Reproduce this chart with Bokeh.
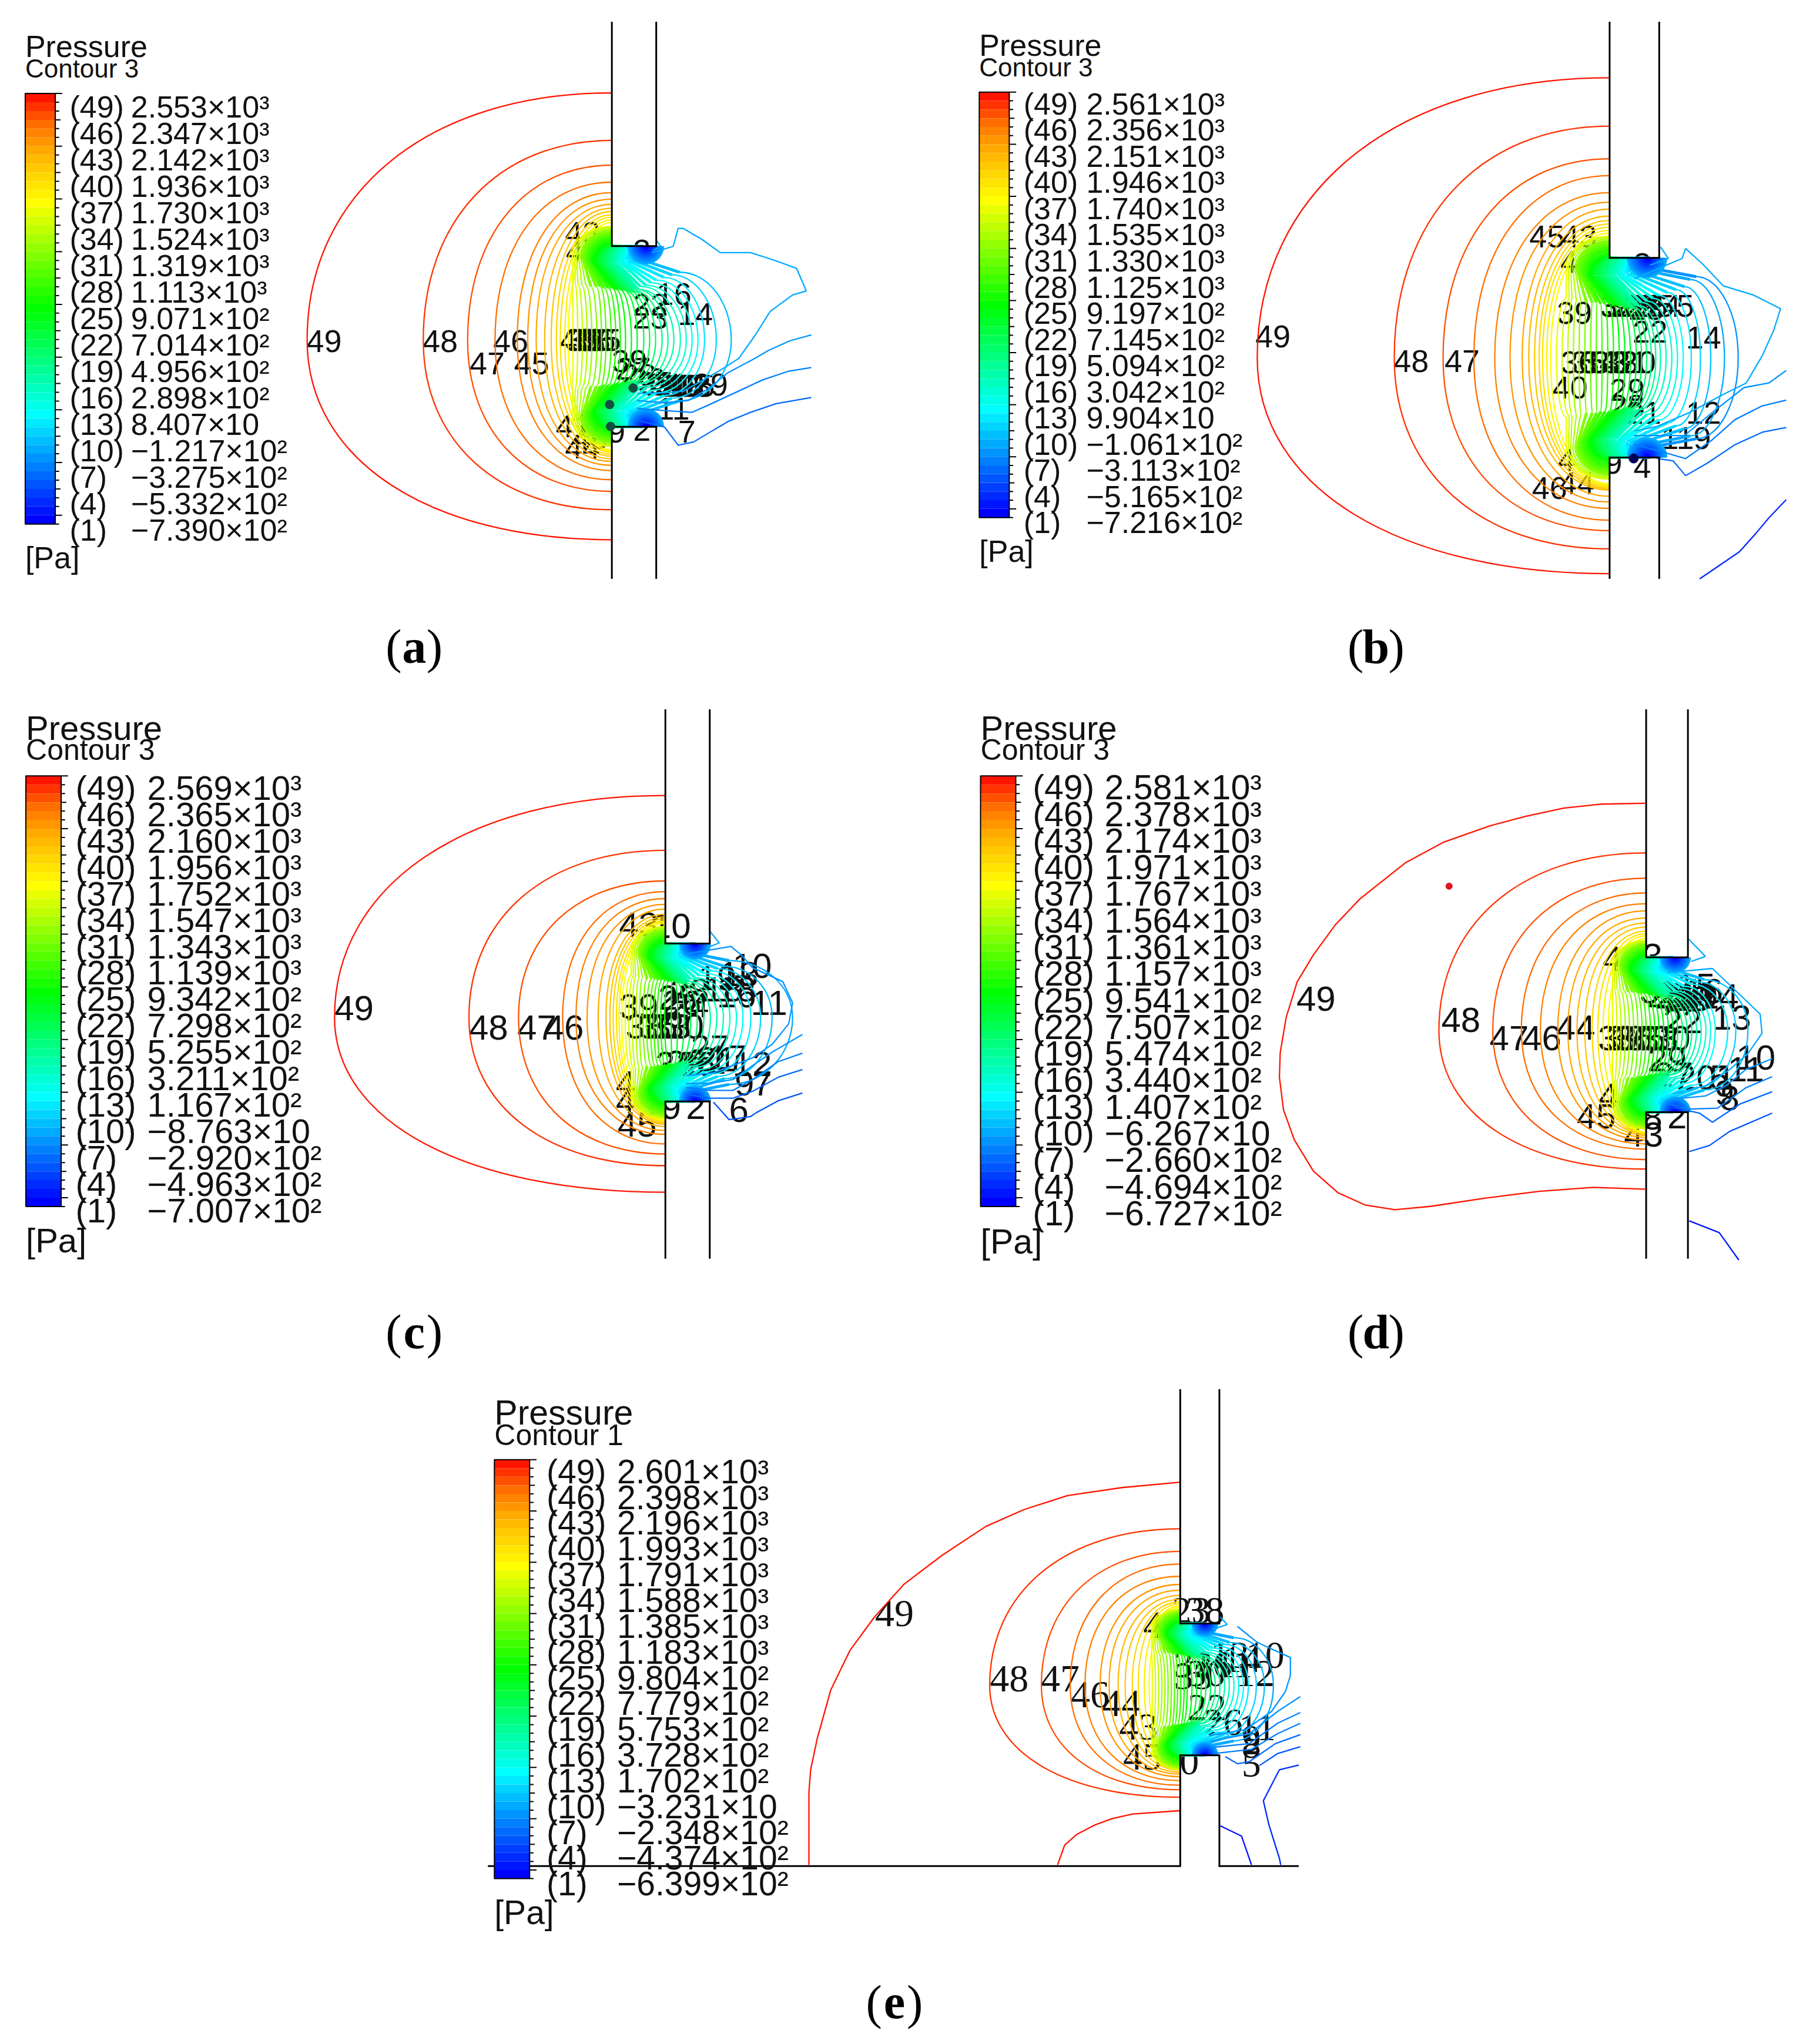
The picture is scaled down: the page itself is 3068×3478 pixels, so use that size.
"""Five pressure contour panels (a)-(e) redrawn with Bokeh, one shared canvas.

All geometry below is read off the picture, in units of a 1380 px wide view of
it; the figure ranges map those units to the page.
"""

import numpy as np
from bokeh.core.properties import value
from bokeh.embed import file_html
from bokeh.models import Range1d
from bokeh.plotting import figure
from bokeh.resources import INLINE

LEGEND_LEVELS = [49, 46, 43, 40, 37, 34, 31, 28, 25, 22, 19, 16, 13, 10, 7, 4, 1]

A_VALUES = ["2.553×10³", "2.347×10³", "2.142×10³", "1.936×10³", "1.730×10³", "1.524×10³", "1.319×10³", "1.113×10³", "9.071×10²", "7.014×10²", "4.956×10²", "2.898×10²", "8.407×10", "−1.217×10²", "−3.275×10²", "−5.332×10²", "−7.390×10²"]
B_VALUES = ["2.561×10³", "2.356×10³", "2.151×10³", "1.946×10³", "1.740×10³", "1.535×10³", "1.330×10³", "1.125×10³", "9.197×10²", "7.145×10²", "5.094×10²", "3.042×10²", "9.904×10", "−1.061×10²", "−3.113×10²", "−5.165×10²", "−7.216×10²"]
C_VALUES = ["2.569×10³", "2.365×10³", "2.160×10³", "1.956×10³", "1.752×10³", "1.547×10³", "1.343×10³", "1.139×10³", "9.342×10²", "7.298×10²", "5.255×10²", "3.211×10²", "1.167×10²", "−8.763×10", "−2.920×10²", "−4.963×10²", "−7.007×10²"]
D_VALUES = ["2.581×10³", "2.378×10³", "2.174×10³", "1.971×10³", "1.767×10³", "1.564×10³", "1.361×10³", "1.157×10³", "9.541×10²", "7.507×10²", "5.474×10²", "3.440×10²", "1.407×10²", "−6.267×10", "−2.660×10²", "−4.694×10²", "−6.727×10²"]
E_VALUES = ["2.601×10³", "2.398×10³", "2.196×10³", "1.993×10³", "1.791×10³", "1.588×10³", "1.385×10³", "1.183×10³", "9.804×10²", "7.779×10²", "5.753×10²", "3.728×10²", "1.702×10²", "−3.231×10", "−2.348×10²", "−4.374×10²", "−6.399×10²"]

# contour crossing on the slot's centre row, from the first arc level downwards
A_MID = [236, 325, 359, 380, 397, 405, 411.5, 418, 423, 427, 430, 433.5, 436, 439.7, 443.3, 447, 450.6, 454.2, 458, 461.6, 465, 469, 472.5, 476, 480, 484.5, 489, 494, 498.5, 503, 508, 512.5, 517, 522, 526.5, 531, 535.5, 540.5, 549.5, 561]
B_MID = [964, 1069, 1106.4, 1130, 1146, 1157.7, 1167, 1172, 1176.5, 1180, 1182.6, 1185.8, 1188.8, 1193.2, 1197.6, 1202, 1206.3, 1210.7, 1215, 1219.5, 1223.8, 1228.2, 1232.6, 1237, 1241.4, 1245.7, 1250, 1254.5, 1258.5, 1262.4, 1266, 1269.4, 1273, 1277.3, 1281.7, 1286, 1290.4, 1296.6, 1303.6, 1311.5, 1322, 1332.5]
C_MID = [257, 360, 398, 431.8, 442, 450.5, 459, 465, 468, 470.5, 473, 475, 477, 479.7, 482.5, 485.2, 488, 490.7, 493.4, 496, 499, 501.6, 504.3, 507, 510, 515, 520, 525, 530, 535, 540, 545, 550, 555, 560, 565, 570, 576, 583.5, 592.3, 608]
D_MID = [1103.2, 1144.5, 1166.4, 1181, 1194.3, 1202, 1209, 1215, 1220.6, 1225, 1229, 1233, 1236.2, 1239.5, 1242.7, 1246, 1249.2, 1252.4, 1255.6, 1258.9, 1262, 1265.3, 1268.5, 1271.8, 1275.4, 1279, 1282.6, 1286.2, 1289.8, 1293.4, 1297, 1300.6, 1304.2, 1307.8, 1311.4, 1315, 1324.5, 1330.7, 1340]
E_MID = [759, 798.6, 820.7, 832, 843.6, 850.5, 857.4, 862.8, 868.2, 872.8, 877.4, 881.2, 883.6, 886, 888.5, 891, 893.3, 895.7, 898.2, 900.6, 903, 905.5, 908, 910.4, 914, 917.6, 921.1, 924.7, 928.3, 931.9, 935.5, 939, 942.6, 946.2, 949.8, 953.4, 957.2, 963.3, 969.5, 976.4]

# where the outer arcs (first level down to 37) meet the wall above and below the slot
A_TOP = [71.6, 108, 127, 140, 148, 153, 157, 160, 162.5, 165, 167, 169, 171]
A_BOT = [414, 391, 377, 368, 361, 357, 354, 352, 350, 348.5, 347, 346, 345]
B_TOP = [60, 97, 122, 135, 148, 155.4, 160.7, 166, 169.4, 172, 174.5, 177, 179]
B_BOT = [440, 421, 407, 399, 390, 385, 380.7, 376, 375, 374, 373, 372, 371]
C_TOP = [610, 652, 675.5, 683.7, 689, 693.5, 697, 701, 703, 704.5, 706, 707, 708]
C_BOT = [914, 893.7, 884.7, 877, 869.7, 866.7, 863.7, 862, 861, 860, 859.5, 859, 858.5]
D_TOP = [654, 673.4, 684.7, 693, 698.4, 703.9, 707.7, 710.8, 714, 716, 717.5, 719.4]
D_BOT = [896.3, 889, 881, 877, 874, 872, 870.5, 869.5, 869, 868.5, 868.2, 868]
E_TOP = [1172, 1189.3, 1199, 1208.4, 1214.6, 1219, 1223, 1226, 1228, 1229.5, 1231, 1232]
E_BOT = [1377.7, 1372, 1368.5, 1365, 1362, 1360, 1358.5, 1357, 1356, 1355, 1354, 1353.5]

# shape round the slot corner for levels 36 down to 8, offsets from the corner as read in panel (a)
CORNER_END_X = [0, 0, 0, 0, 0, 0, 0, 0, 0, 0, 0, 0, 1, 2, 3, 4, 5, 6, 8, 10, 12, 14, 16, 18, 20, 22, 24, 26, 28]
CORNER_END_Y = [-15, -14.5, -14, -13, -12, -11, -9.5, -8, -6.5, -5, -3, -1, 0, 0, 0, 0, 0, 0, 0, 0, 0, 0, 0, 0, 0, 0, 0, 0, 0]
CORNER_LOBE_X = [-30, -28.5, -27, -25.5, -24, -22.5, -21, -19.5, -18, -16.5, -15, -13.5, -12, -10, -8, -6, -4, -2, 0, 2, 4, 6, 8, 10, 12, 14, 15, 16, 17]
CORNER_LOBE_Y = [6, 6.5, 7, 7.5, 8, 8.5, 9, 10, 11, 11, 12, 12, 12, 12, 12, 12, 13, 13, 13, 13, 13, 12, 12, 12, 11, 10, 8, 7, 5]
CORNER_WAIST_X = [-30, -28, -26, -23, -20, -16, -12, -9, -6, -3, 0, 3, 5.5, 8, 10, 12, 14, 16, 18, 20, 22, 26, 30, 34, 40, 46, 52, 56, 60]
CORNER_WAIST_Y = [28, 29, 29, 30, 30, 31, 31, 31, 32, 32, 32, 33, 33, 33, 34, 34, 34, 34, 33, 33, 31, 30, 28, 26, 24, 22, 20, 15, 13]

# the deep blue pockets at the slot mouth, panel (a) units
MOUTH_LEVELS = [9, 8, 7, 6, 5, 4, 3, 2, 1]
MOUTH_RADII = [14, 12.5, 11, 9.5, 8, 6.5, 5, 3.5, 2.2]
MOUTH_CENTRE_X = 26

# outer, broken-up contours at the slot mouth and beyond
A_LINE_LEVELS = [9, 9, 8, 7, 6]
A_LINE_XS = [
    [504, 507, 501],
    [500, 516.5, 520.3, 524, 538.3, 552.6, 575.8, 594.5, 611, 618.5, 608, 590.8, 578.8, 566.8, 555, 524.8, 509.8, 488.8],
    [622.3, 605.8, 589.3, 577.3, 557.8, 544.3, 527.8, 509.8, 488.8],
    [622.3, 604.3, 584.8, 563.8, 544.3, 530.8, 509.8, 488.8],
    [622.3, 595.3, 575.8, 559.3, 547.3, 532.3, 520.3, 509.8, 488.8],
]
A_LINE_YS = [
    [185, 189.2, 192.2],
    [194, 189.2, 175.4, 175.4, 183.7, 194, 194, 200, 206, 223.4, 226.4, 239, 258, 275, 282.6, 300, 301.4, 302],
    [257, 261.6, 269, 276, 286.4, 297.6, 307.4, 309, 307.4],
    [282, 285, 291.6, 301.4, 310.4, 316.4, 315, 313.4],
    [305, 309.7, 316.4, 323, 330, 339, 341.6, 327.6, 322.4],
]
B_LINE_LEVELS = [9, 9, 8, 7, 6, 3]
B_LINE_XS = [
    [1273, 1279, 1265],
    [1252.8, 1289.6, 1292.2, 1305.3, 1321, 1344, 1365, 1359.7, 1351, 1338.7, 1321, 1294.8, 1270.3, 1252.8],
    [1369.3, 1356, 1337, 1312.4, 1291.3, 1270.3, 1252.8],
    [1369.3, 1351, 1330, 1312.4, 1292.2, 1273.8, 1252.8],
    [1369.3, 1351, 1330, 1308.9, 1292.2, 1282.6, 1270.3],
    [1369.3, 1356, 1345.7, 1333.4, 1303],
]
B_LINE_YS = [
    [189.6, 198.4, 203.6],
    [214, 198.4, 190.8, 202.7, 219.4, 226.4, 236.9, 253.6, 272.9, 293.9, 302.7, 316.7, 327.2, 330.7],
    [284.3, 293.9, 297.4, 316.7, 334.2, 334.2, 334.2],
    [307, 311.4, 322, 337.7, 351.8, 346.5, 341.2],
    [328, 331.6, 341.2, 355.3, 364.9, 353.5, 351.7],
    [383.3, 397.3, 409.6, 423.3, 444],
]
C_LINE_LEVELS = [9, 8, 8, 7, 6, 5]
C_LINE_XS = [
    [544.3, 551.8, 541],
    [524.8, 560.8, 569, 577.3, 600.5, 608, 605, 592.3, 577.3, 562, 547.3, 526.3],
    [615.5, 592.3, 577.3, 562.3, 544.3, 526.3],
    [615.5, 596.8, 577.3, 562.3, 544.3, 526.3],
    [615.5, 596.8, 577.3, 562.3, 544.3, 526.3],
    [615.5, 596.8, 580.3, 575.8, 559.3, 547.3],
]
C_LINE_YS = [
    [713.7, 723, 727.2],
    [731.7, 725.7, 732.5, 742, 752.7, 769, 785, 800.7, 811, 817, 822.5, 824.7],
    [793.2, 806.7, 817, 827.7, 830.7, 830.7],
    [807.5, 814, 827.7, 836, 836, 833.7],
    [820, 826, 836.7, 842, 842, 839],
    [838, 844, 853, 856, 858.4, 845],
]
D_LINE_LEVELS = [49, 9, 9, 8, 7, 6, 5, 2]
D_LINE_XS = [
    [1261.1, 1227.8, 1198.7, 1169.5, 1142.4, 1107, 1077.8, 1042.4, 1023.7, 1007, 994.5, 986.2, 981.6, 981, 984.1, 992.4, 1007, 1025.8, 1046.6, 1069.5, 1096.6, 1138.2, 1179.9, 1221.6, 1261.1],
    [1294.5, 1307.4, 1296.5],
    [1278, 1312.8, 1330.7, 1349.3, 1350.8, 1340, 1326, 1307.4, 1282.6],
    [1358.6, 1338.4, 1323, 1307.4, 1282.6],
    [1358.6, 1338.4, 1316.7, 1295, 1279.5],
    [1358.6, 1333.8, 1312.8, 1302.8, 1282.6],
    [1358.6, 1326, 1310.5, 1295],
    [1295, 1318, 1333],
]
D_LINE_YS = [
    [616, 616.6, 619.7, 626, 633.2, 645.7, 661.4, 689.5, 709.3, 732.2, 753, 780, 807.2, 825.9, 850.9, 873.8, 897.8, 914.4, 923.8, 927.4, 924.9, 918.6, 913.4, 910.3, 911.7],
    [720, 733.3, 737.2],
    [745.7, 742.6, 759.7, 777.5, 792.2, 807.7, 820, 832.5, 838.7],
    [811.6, 820, 832.5, 840.3, 842.6],
    [825.5, 834, 849.6, 850.3, 846.5],
    [837, 846.5, 860.4, 853.4, 848.8],
    [853.4, 867.4, 878.2, 882.9],
    [936, 945, 966],
]
E_LINE_LEVELS = [49, 49, 9, 8, 8, 7, 7, 6, 5, 3, 2]
E_LINE_XS = [
    [904.6, 860.3, 818.6, 785.2, 756, 722.7, 693.5, 670.6, 652, 637.2, 626.8, 621.8, 620.5, 620.5],
    [811, 816.5, 826, 839.4, 853, 868.6, 904.6],
    [935, 941, 930.3],
    [948.8, 964, 989.4, 989.4, 985.6, 974.9, 954.9, 927.3],
    [997, 979.5, 958, 927.3],
    [997, 979.5, 958, 927.3],
    [997, 979.5, 959.5, 930.3],
    [997, 977.9, 958, 948.8, 939.5],
    [997, 979.5, 965.6],
    [995.8, 981, 968.7, 973, 981, 982],
    [934.5, 952, 959.6],
]
E_LINE_YS = [
    [1136.3, 1140.4, 1146.5, 1157.3, 1170.2, 1192.2, 1214.3, 1239.7, 1265.1, 1295.6, 1332.9, 1356.7, 1373.6, 1429.5],
    [1429.5, 1414.3, 1406, 1399, 1394, 1390.5, 1388],
    [1239, 1245.3, 1249],
    [1246.8, 1259, 1270.6, 1284.4, 1296.7, 1312, 1325.9, 1330.5],
    [1300.5, 1312, 1329, 1335],
    [1312.8, 1321, 1336.6, 1339.7],
    [1321, 1329, 1341, 1344.3],
    [1329.7, 1336.6, 1350.4, 1352, 1346.6],
    [1339, 1344.3, 1353.5],
    [1353, 1356.6, 1380.4, 1399, 1424.5, 1429.5],
    [1399, 1407.5, 1429.5],
]

# labels printed on the contours
A_LABELS = ["49", "48", "47", "46", "45", "40", "35", "33", "38", "36", "35", "43", "4", "3", "2", "9", "16", "22", "23", "14", "39", "27", "28", "26", "25", "24", "21", "20", "19", "18", "17", "15", "13", "29", "11", "7", "41", "44", "43"]
A_LABEL_X = [249, 338, 374, 392, 408, 443, 447, 451, 455, 459, 463, 447, 441, 492.5, 492.5, 473, 517, 499, 499, 533.5, 483, 486, 490, 497, 503, 509, 515, 519, 523, 527, 531, 535, 532, 545, 516.5, 527, 440, 447, 452.8]
A_LABEL_Y = [262, 262, 279, 262, 279, 261, 261, 261, 261, 261, 261, 179, 193, 192.6, 330, 331, 226, 234, 244, 241, 277, 283, 288, 291, 294, 295, 295, 296, 296, 296, 296, 296, 296, 295, 313.4, 331, 327, 343.4, 336]
B_LABELS = ["49", "48", "47", "45", "43", "4", "39", "40", "5", "31", "30", "29", "28", "27", "26", "25", "24", "23", "22", "14", "36", "35", "34", "33", "32", "31", "30", "29", "28", "21", "12", "11", "9", "4", "3", "9", "4", "46", "44"]
B_LABEL_X = [976, 1082, 1121, 1186, 1210.7, 1203, 1207, 1203.7, 1292, 1240, 1245, 1250, 1255, 1260, 1265, 1270, 1275, 1262, 1265, 1306, 1210, 1218, 1226, 1234, 1242, 1250, 1256, 1247.5, 1247.5, 1260, 1306, 1286, 1305, 1259, 1259, 1237, 1201, 1188, 1209]
B_LABEL_Y = [258, 277, 277, 181.7, 181.7, 201, 240.4, 297.4, 235, 235, 235, 235, 235, 235, 235, 235, 235, 237, 254.5, 259, 278, 278, 278, 278, 278, 278, 278, 299, 311.4, 316.7, 316.7, 336, 336, 358, 202.7, 355, 352.6, 374.5, 371]
C_LABELS = ["49", "48", "47", "46", "43", "10", "39", "38", "36", "33", "30", "28", "26", "25", "24", "19", "18", "13", "10", "18", "16", "11", "27", "31", "29", "26", "22", "21", "17", "12", "9", "7", "6", "2", "9", "4", "4", "45"]
C_LABEL_X = [272, 375, 412, 433, 490, 515, 490, 495, 505, 515, 525, 529, 523, 520, 529, 550, 554.8, 566.8, 577, 565, 565, 590, 545, 518, 526, 534, 542, 550, 558, 577, 571, 584.8, 566.8, 533.8, 515, 480, 480, 488.8]
C_LABEL_Y = [773, 788, 788, 788, 709, 710, 771.5, 787, 787, 787, 787, 760, 769, 765, 770.7, 750, 758.7, 746.7, 740.7, 758.7, 763, 769, 803, 816, 815, 816, 814, 812, 811, 816, 830.7, 830.7, 851, 848.7, 848.7, 830.7, 844, 862]
D_LABELS = ["49", "48", "47", "46", "44", "38", "39", "36", "35", "33", "30", "4", "3", "31", "28", "26", "24", "23", "19", "16", "15", "22", "14", "13", "29", "27", "20", "5", "1", "11", "10", "8", "9", "2", "43", "8", "45", "4"]
D_LABEL_X = [1009, 1120, 1157, 1182, 1208, 1240, 1246, 1252, 1262, 1272, 1281, 1236, 1267, 1272, 1278, 1284, 1290, 1296, 1302, 1306, 1300, 1290, 1318, 1327.5, 1278, 1283, 1300.4, 1318, 1323, 1338.4, 1346, 1326, 1322, 1285.7, 1260, 1267, 1223.7, 1233]
D_LABEL_Y = [766, 782, 796, 796, 788, 796, 796, 796, 796, 796, 796, 735, 733, 760, 763, 764, 766, 766, 764, 760, 756, 783, 764, 780, 812, 824, 826, 826, 826, 820, 811, 842, 838, 856, 870, 857, 856, 840]
E_LABELS = ["49", "48", "47", "46", "44", "43", "45", "23", "38", "0", "4", "10", "13", "12", "11", "22", "26", "11", "9", "8", "5", "33", "30", "31", "26", "14"]
E_LABEL_X = [686, 774, 813, 836, 860, 873, 876, 913.5, 924, 912, 884, 970, 943, 962.6, 946, 925.7, 938, 964, 959.5, 959.5, 959.5, 915, 925, 915, 930, 952]
E_LABEL_Y = [1237, 1287, 1287, 1299, 1306, 1324, 1347, 1234.5, 1234.5, 1350.4, 1246, 1269, 1269, 1283, 1276, 1309, 1320, 1324.3, 1333, 1338, 1352, 1285, 1283, 1276, 1276, 1272]

PANELS = [
    dict(name="a", values=A_VALUES, contour="Contour 3", mid=A_MID, top=A_TOP, bot=A_BOT, first=49, lines=(A_LINE_LEVELS, A_LINE_XS, A_LINE_YS), labels=(A_LABELS, A_LABEL_X, A_LABEL_Y),
         wall=(469.5, 503.5), span=(17, 444), slot=(189, 327.5), mid_y=261, bar=(20, 72, 402, 23), row=(82.4, 20.25), text_dx=(34, 81), fonts=(52, 52, 44, 54), titles=(36, 53), unit=428, cap=(318, 496)),
    dict(name="b", values=B_VALUES, contour="Contour 3", mid=B_MID, top=B_TOP, bot=B_BOT, first=49, lines=(B_LINE_LEVELS, B_LINE_XS, B_LINE_YS), labels=(B_LABELS, B_LABEL_X, B_LABEL_Y),
         wall=(1234, 1272), span=(17, 444), slot=(198, 351), mid_y=274.6, bar=(751, 71, 397, 23), row=(80, 20.06), text_dx=(34, 82), fonts=(52, 52, 44, 54), titles=(35, 52), unit=423, cap=(1055, 496)),
    dict(name="c", values=C_VALUES, contour="Contour 3", mid=C_MID, top=C_TOP, bot=C_BOT, first=49, lines=(C_LINE_LEVELS, C_LINE_XS, C_LINE_YS), labels=(C_LABELS, C_LABEL_X, C_LABEL_Y),
         wall=(510.5, 544.5), span=(544, 965), slot=(723.5, 844.5), mid_y=780, bar=(20.5, 595, 925, 27), row=(604, 20.25), text_dx=(38, 93), fonts=(58, 58, 50, 60), titles=(558, 575), unit=951, cap=(318, 1021)),
    dict(name="d", values=D_VALUES, contour="Contour 3", mid=D_MID, top=D_TOP, bot=D_BOT, first=48, lines=(D_LINE_LEVELS, D_LINE_XS, D_LINE_YS), labels=(D_LABELS, D_LABEL_X, D_LABEL_Y),
         wall=(1262, 1294), span=(544, 965), slot=(734, 852.7), mid_y=790, bar=(752, 595, 925, 27), row=(604, 20.4), text_dx=(40, 95), fonts=(59, 58, 50, 60), titles=(558, 575), unit=952, cap=(1055, 1021)),
    dict(name="e", values=E_VALUES, contour="Contour 1", mid=E_MID, top=E_TOP, bot=E_BOT, first=48, lines=(E_LINE_LEVELS, E_LINE_XS, E_LINE_YS), labels=(E_LABELS, E_LABEL_X, E_LABEL_Y),
         wall=(905, 935), span=(1065, 1431), slot=(1244.5, 1345.5), mid_y=1292, bar=(379.5, 1119, 1440, 27), row=(1128, 19.75), text_dx=(40, 94), fonts=(57, 59, 50, 66), titles=(1083, 1100), unit=1466, cap=(686, 1535), serif=True),
]

SCALE = 3068 / 1380
INK = "#111111"
SANS = value("Liberation Sans")
SERIF = value("Liberation Serif")
CORNER_REF = 138.4  # slot height of panel (a), the CORNER_* offsets are in its pixels
LINE_WIDTH = 2.3
BLOB_WIDTH = 5  # packed lines at the slot corners merge into a solid patch
BLOB_LEVEL = 31

COLOR_STOPS = [1, 13, 25, 37, 40, 43, 46, 49]
RED_STOPS = [0, 0, 0, 255, 255, 255, 255, 255]
GREEN_STOPS = [0, 255, 255, 255, 215, 170, 110, 20]
BLUE_STOPS = [255, 255, 0, 0, 0, 0, 0, 0]


def level_color(level):
    r = np.interp(level, COLOR_STOPS, RED_STOPS)
    g = np.interp(level, COLOR_STOPS, GREEN_STOPS)
    b = np.interp(level, COLOR_STOPS, BLUE_STOPS)
    return "#%02x%02x%02x" % (int(r), int(g), int(b))


def draw_legend(p, panel):
    left, top, bottom, width = panel["bar"]
    band = (bottom - top) / 49
    levels = list(range(49, 0, -1))
    tops = [top + i * band for i in range(49)]
    p.quad(left=left, right=left + width, top=tops, bottom=[t + band for t in tops],
           fill_color=[level_color(lv) for lv in levels], line_color=None)
    p.quad(left=[left], right=[left + width], top=[top], bottom=[bottom],
           fill_color=None, line_color="#000000", line_width=2)
    lengths = [5.3 if i % 6 == 0 else (4 if i % 3 == 0 else 3) for i in range(50)]
    ticks = [top + i * band for i in range(50)]
    p.segment(x0=left + width, x1=[left + width + n for n in lengths], y0=ticks, y1=ticks,
              line_color="#000000", line_width=2)

    row0, step = panel["row"]
    rows = [row0 + i * step for i in range(len(LEGEND_LEVELS))]
    dx_level, dx_value = panel["text_dx"]
    size, title_size, contour_size, _ = panel["fonts"]
    common = dict(text_font=SANS, text_color=INK, text_baseline="middle")
    p.text(x=left + dx_level, y=rows, text=[f"({lv})" for lv in LEGEND_LEVELS], text_font_size=f"{size}px", **common)
    p.text(x=left + dx_value, y=rows, text=panel["values"], text_font_size=f"{size}px", **common)
    p.text(x=[left], y=[panel["unit"]], text=["[Pa]"], text_font_size=f"{size}px", **common)
    title_y, contour_y = panel["titles"]
    p.text(x=[left], y=[title_y], text=["Pressure"], text_font_size=f"{title_size}px", **common)
    p.text(x=[left], y=[contour_y], text=[panel["contour"]], text_font_size=f"{contour_size}px", **common)


def draw_contours(p, panel):
    wall, _ = panel["wall"]
    ceil, floor = panel["slot"]
    mid_y = panel["mid_y"]
    first = panel["first"]
    mid = panel["mid"]

    # outer arcs: wall -> apex on the centre row -> wall
    n = len(panel["top"])
    apex = mid[:n]
    colors = [level_color(first - i) for i in range(n)]
    for ends in (panel["top"], panel["bot"]):
        p.bezier(x0=[wall] * n, y0=ends, x1=apex, y1=[mid_y] * n,
                 cx0=[wall - 0.6 * (wall - a) for a in apex], cy0=ends,
                 cx1=apex, cy1=[mid_y - 0.6 * (mid_y - e) for e in ends],
                 line_color=colors, line_width=LINE_WIDTH)

    # inner contours wrapping the two slot corners
    k = (floor - ceil) / CORNER_REF
    xs, ys, line_colors, line_widths = [], [], [], []
    curve = {key: [] for key in ("x0", "y0", "x1", "y1", "cx0", "cy0", "cx1", "cy1", "color", "width")}

    def add_curve(*vals):
        for key, val in zip(curve, vals):
            curve[key].append(val)

    for idx, mid_x in enumerate(mid[n:]):
        level = first - n - idx
        i = 36 - level
        end_x = wall + k * CORNER_END_X[i]
        lobe_x = wall + k * CORNER_LOBE_X[i]
        waist_x = wall + k * CORNER_WAIST_X[i]
        color = level_color(level)
        width = BLOB_WIDTH if level <= BLOB_LEVEL else LINE_WIDTH
        for sign, base in ((1, ceil), (-1, floor)):
            end_y = base + sign * k * CORNER_END_Y[i]
            lobe_y = base + sign * k * CORNER_LOBE_Y[i]
            waist_y = base + sign * k * CORNER_WAIST_Y[i]
            add_curve(end_x, end_y, lobe_x, lobe_y,
                      end_x + 0.55 * (lobe_x - end_x), end_y,
                      lobe_x, lobe_y - 0.55 * (lobe_y - end_y), color, width)
            xs.append([lobe_x, waist_x])
            ys.append([lobe_y, waist_y])
            line_colors.append(color)
            line_widths.append(width)
            add_curve(waist_x, waist_y, mid_x, mid_y,
                      waist_x + 0.55 * (mid_x - waist_x), waist_y,
                      mid_x, mid_y - 0.55 * (mid_y - waist_y), color, LINE_WIDTH)
    p.multi_line(xs, ys, line_color=line_colors, line_width=line_widths)
    p.bezier(x0=curve["x0"], y0=curve["y0"], x1=curve["x1"], y1=curve["y1"],
             cx0=curve["cx0"], cy0=curve["cy0"], cx1=curve["cx1"], cy1=curve["cy1"],
             line_color=curve["color"], line_width=curve["width"])

    # blue pockets under the ceiling and over the floor of the slot, largest first
    pocket_x = wall + k * MOUTH_CENTRE_X
    radii = [k * r for r in MOUTH_RADII]
    pocket_colors = [level_color(lv) for lv in MOUTH_LEVELS]
    p.wedge(x=pocket_x, y=ceil, radius=radii, start_angle=np.pi, end_angle=2 * np.pi,
            fill_color=pocket_colors, line_color=None)
    p.wedge(x=pocket_x, y=floor, radius=radii, start_angle=0, end_angle=np.pi,
            fill_color=pocket_colors, line_color=None)

    line_levels, line_xs, line_ys = panel["lines"]
    p.multi_line(line_xs, line_ys, line_color=[level_color(lv) for lv in line_levels], line_width=LINE_WIDTH)


def draw_walls(p, panel):
    wall, wall_right = panel["wall"]
    ceil, floor = panel["slot"]
    y0, y1 = panel["span"]
    p.multi_line([[wall, wall, wall_right, wall_right], [wall, wall, wall_right, wall_right]],
                 [[y0, ceil, ceil, y0], [y1, floor, floor, y1]],
                 line_color="#000000", line_width=3, line_join="miter")


def draw_caption(p, panel):
    cx, cy = panel["cap"]
    common = dict(text_font=SERIF, text_color="#000000", text_font_size="82px", text_baseline="middle")
    p.text(x=[cx - 9.5], y=[cy], text=["("], text_align="right", **common)
    p.text(x=[cx], y=[cy], text=[panel["name"]], text_align="center", text_font_style="bold", **common)
    p.text(x=[cx + 9.5], y=[cy], text=[")"], text_align="left", **common)


# ranges nudged so the drawn page lines up with the reference
p = figure(width=3052, height=3462, output_backend="svg", toolbar_location=None,
           x_range=Range1d(8 / SCALE - 2.7, 3060 / SCALE - 1.2), y_range=Range1d(3470 / SCALE - 1, 8 / SCALE - 3),
           x_axis_type=None, y_axis_type=None, min_border=0, outline_line_color=None,
           background_fill_color="#ffffff", border_fill_color="#ffffff")
p.grid.visible = False

# the bottom line of panel (e) runs under its legend
p.segment(x0=[374.5, 934.5], x1=[905, 995.8], y0=[1430.5, 1430.5], y1=[1430.5, 1430.5], line_color="#000000", line_width=3)

for panel in PANELS:
    texts, label_x, label_y = panel["labels"]
    p.text(x=label_x, y=label_y, text=texts, text_align="center", text_baseline="middle",
           text_color=INK, text_font=SERIF if panel.get("serif") else SANS,
           text_font_size=f"{panel['fonts'][3]}px")
    draw_contours(p, panel)
    draw_walls(p, panel)
    draw_legend(p, panel)
    draw_caption(p, panel)

# stray blots left in the original screenshots
p.scatter(x=[485.8, 467.8, 468.5], y=[297.7, 310.4, 327.2], size=15, color="#14503f")
p.scatter(x=[1252.4], y=[351.7], size=16, color="#00005a")
p.scatter(x=[1111], y=[679.5], size=11, color="#e0141e")

open("out.html", "w").write(file_html(p, INLINE))
